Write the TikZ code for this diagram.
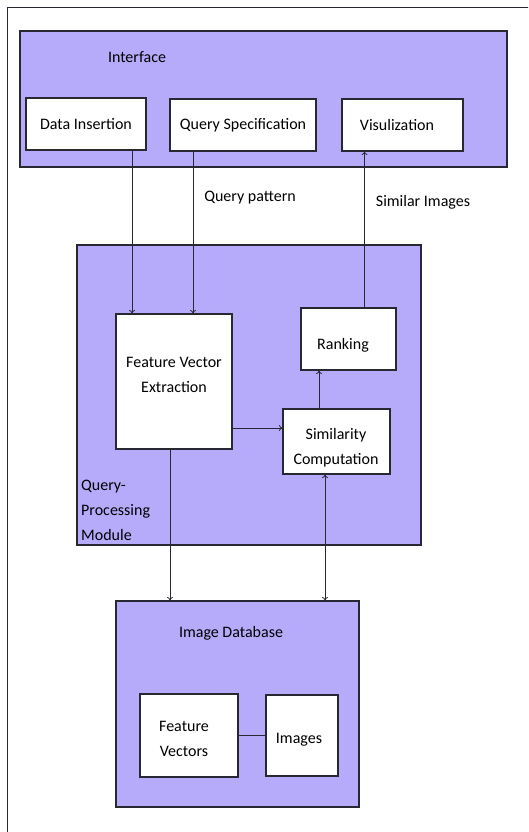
\documentclass[tikz,border=0pt]{standalone}
\usepackage{fontspec}
\setmainfont{Carlito}
\usetikzlibrary{arrows.meta}

\definecolor{panel}{RGB}{182,171,250}
\definecolor{edge}{RGB}{40,40,50}

\tikzset{
  panelbox/.style={draw=edge, line width=1.1pt, fill=panel, inner sep=0pt},
  box/.style={draw=edge, line width=1.1pt, fill=white, align=center, inner sep=0pt},
  lbl/.style={inner sep=0pt, align=center},
  arr/.style={draw=edge, line width=0.8pt, -{To[length=3.5pt,width=6pt]}}
}

\begin{document}
\begin{tikzpicture}[x=1pt, y=-1pt, font=\fontsize{16}{25}\selectfont]
\useasboundingbox (0,0) rectangle (528,832);
\clip (0,0) rectangle (528,832);
%\draw[red] (0,0) grid[step=50] (528,832);
\draw[edge, line width=1pt] (7,840) -- (7,8) -- (540,8);

% interface
\node[panelbox, minimum width=487pt, minimum height=136pt] (iface) at (263.5,99) {};
\node[lbl] (ifacelbl) at (137,57) {Interface};
\node[box, minimum width=120pt, minimum height=52pt] (din) at (86,124) {Data Insertion};
\node[box, minimum width=146pt, minimum height=52pt] (qspec) at (243,125) {Query Specification};
\node[box, minimum width=121pt, minimum height=52pt] (visu) at (402.5,125) {};
\node[lbl] (visutxt) at (397,125) {Visulization};

% query processing
\node[panelbox, minimum width=344pt, minimum height=300pt] (qpm) at (249,395) {};
\node[lbl, anchor=west, align=left] (qpmlbl) at (81,510) {Query-\\Processing\\Module};
\node[box, minimum width=116pt, minimum height=135pt] (fve) at (174,381.5) {};
\node[lbl] (fvetxt) at (174,375) {Feature Vector\\Extraction};
\node[box, minimum width=95pt, minimum height=62pt] (rank) at (348.5,339) {};
\node[lbl] (ranktxt) at (343,345) {Ranking};
\node[box, minimum width=107pt, minimum height=65pt] (sim) at (336.5,441.5) {};
\node[lbl] (simtxt) at (336,447.5) {Similarity\\Computation};

% database
\node[panelbox, minimum width=243pt, minimum height=206pt] (imgdb) at (237.5,704) {};
\node[lbl] (imgdblbl) at (231,633) {Image Database};
\node[box, minimum width=98pt, minimum height=83pt] (fvec) at (189,735.5) {};
\node[lbl] (fvectxt) at (184,738.5) {Feature\\Vectors};
\node[box, minimum width=72pt, minimum height=81pt] (imgs) at (302,735.5) {};
\node[lbl] (imgstxt) at (299,740) {Images};

\node[lbl] (qpat) at (250,198) {Query pattern};
\node[lbl] (simimg) at (423,202) {Similar Images};

% connectors
\coordinate (hit) at ([yshift=13.5pt]sim.west);
\draw[arr] ([xshift=46pt]din.south) -- ([xshift=46pt]din.south |- fve.north);
\draw[arr] ([xshift=-50pt]qspec.south) -- ([xshift=-50pt]qspec.south |- fve.north);
\draw[arr] ([xshift=16pt]rank.north) -- ([xshift=16pt]rank.north |- visu.south);
\draw[arr] (fve.east |- hit) -- (hit);
\draw[arr] ([xshift=-17.5pt]sim.north) -- ([xshift=-17.5pt]sim.north |- rank.south);
\draw[arr] ([xshift=-4pt]fve.south) -- ([xshift=-4pt]fve.south |- imgdb.north);
\draw[arr, {To[length=3.5pt,width=6pt]}-{To[length=3.5pt,width=6pt]}] ([xshift=-11.5pt]sim.south) -- ([xshift=-11.5pt]sim.south |- imgdb.north);
\draw[edge, line width=0.8pt] (fvec) -- (imgs);

\end{tikzpicture}
\end{document}
